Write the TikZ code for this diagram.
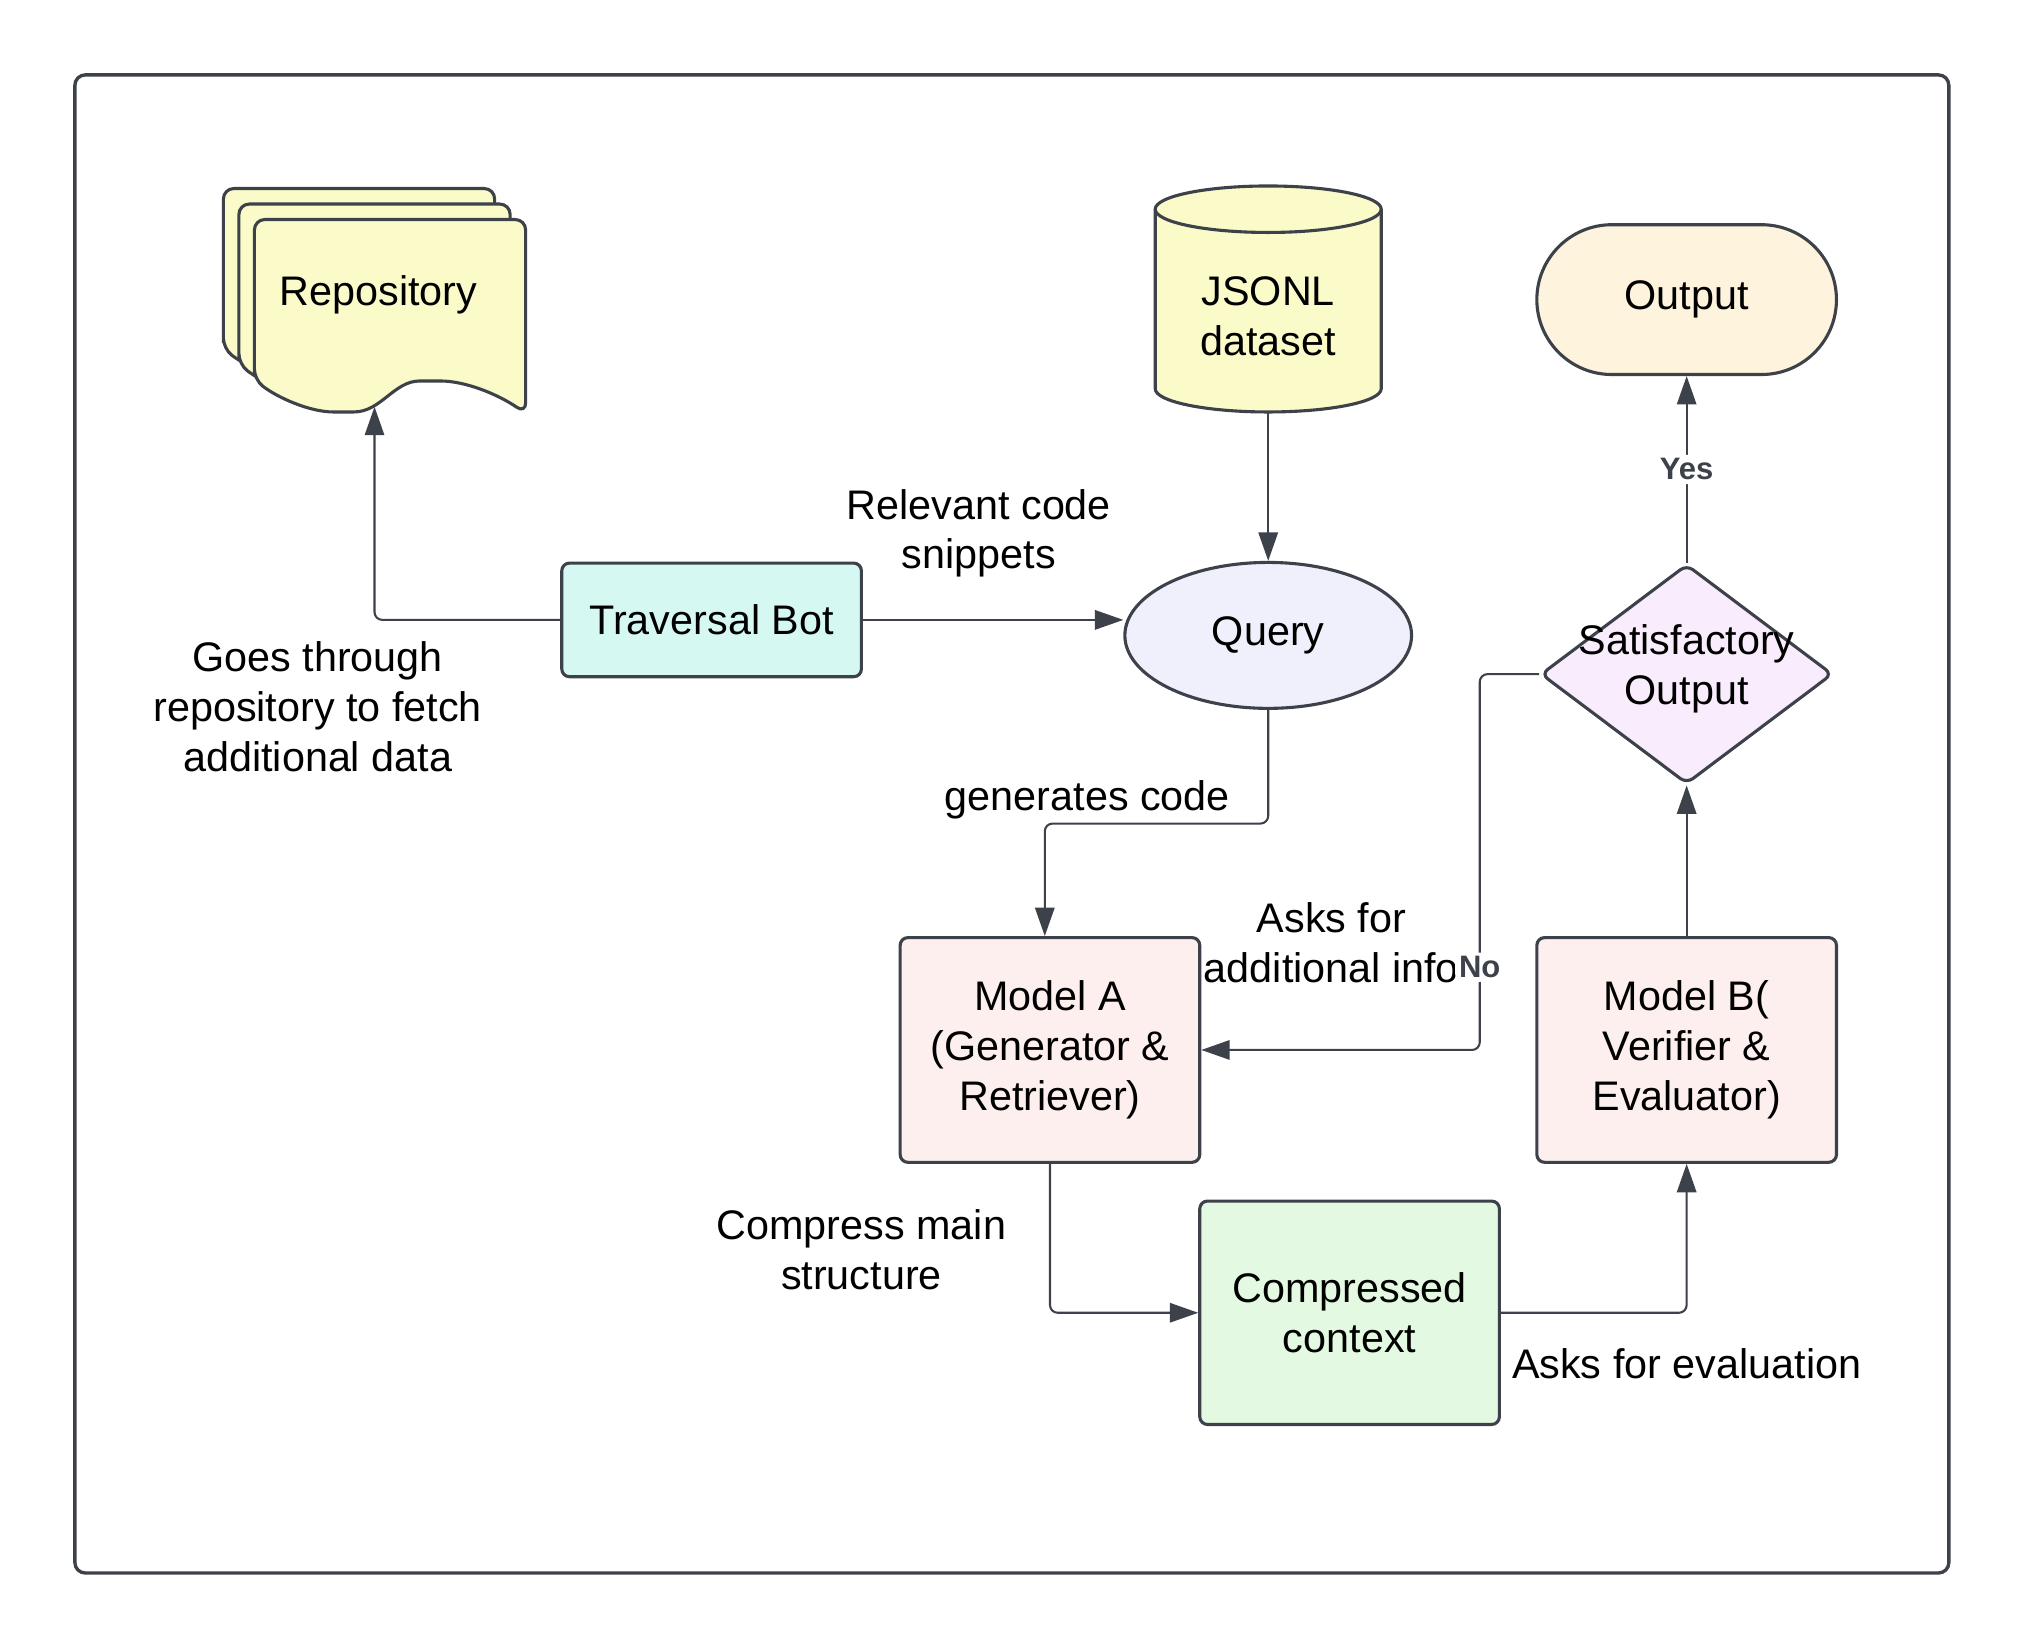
\documentclass[tikz,border=0pt]{standalone}
\usepackage{fontspec}
\setmainfont{Liberation Sans}
\usetikzlibrary{arrows.meta,shapes.geometric,shapes.misc}

\definecolor{edge}{RGB}{61,65,73}
\definecolor{docfill}{RGB}{250,251,200}
\definecolor{travfill}{RGB}{214,248,242}
\definecolor{queryfill}{RGB}{240,240,252}
\definecolor{outfill}{RGB}{254,243,220}
\definecolor{satfill}{RGB}{249,237,253}
\definecolor{modfill}{RGB}{253,239,238}
\definecolor{compfill}{RGB}{227,249,225}

\begin{document}
\begin{tikzpicture}[x=.5pt,y=-.5pt,
  every node/.style={font=\fontsize{16}{19.3}\selectfont,align=center,inner sep=0pt},
  shape line/.style={draw=edge,line width=1.2pt},
  box/.style={shape line,rounded corners=3pt,minimum width=116pt},
  page/.style={shape line,fill=docfill,rounded corners=4pt},
  rim/.style={x radius=43.75pt,y radius=9pt},
  conn/.style={draw=edge,line width=.8pt,rounded corners=3pt,-{Triangle[length=11pt,width=7.5pt]}},
  tag/.style={fill=white,text=edge,inner sep=1.5pt,font=\fontsize{12}{14}\selectfont\bfseries}]
\useasboundingbox (0,0) rectangle (1568,1277.6);
\draw[draw=edge,line width=1.3pt,rounded corners=4pt] (58,58) rectangle (1509,1218);

% stacked pages
\foreach \d in {24,12,0}
  \draw[page,shift={(-\d,-\d)}] (197,294) -- (197,170) -- (407,170) -- (407,320)
    .. controls (385,305) and (360,295) .. (333,295)
    .. controls (305,295) and (295,319) .. (266,319)
    .. controls (240,319) and (215,308) .. cycle;
\node (repo) at (293,228) {Repository};
\coordinate (repoBot) at (290,315);

% database
\draw[shape line,fill=docfill] (894.5,162) -- (894.5,301) arc[start angle=180,end angle=360,rim]
  -- (1069.5,162) arc[start angle=0,end angle=180,rim] -- cycle;
\draw[shape line] (894.5,162) arc[start angle=180,end angle=360,rim];
\node[minimum width=87.5pt,minimum height=87.5pt,outer sep=0pt,
  label={[yshift=-6.75pt]center:{JSONL\\dataset}}] (jsonl) at (982,231.5) {};

\node[box,fill=travfill,minimum height=44pt] (trav) at (551,480) {Traversal Bot};
\node[shape line,ellipse,fill=queryfill,minimum width=111pt,minimum height=56.5pt] (query) at (982,492) {Query};
\node[shape line,rounded rectangle,fill=outfill,minimum width=116pt,minimum height=58pt] (out) at (1306,232) {Output};
\node[shape line,diamond,fill=satfill,rounded corners=3pt,minimum width=113pt,minimum height=85pt,
  label={[yshift=2pt]center:{Satisfactory\\Output}}] (sat) at (1306,522) {};
\node[box,fill=modfill,minimum height=87pt] (modA) at (813,813) {Model A\\(Generator \&\\Retriever)};
\node[box,fill=modfill,minimum height=87pt] (modB) at (1306,813) {Model B(\\Verifier \&\\Evaluator)};
\node[box,fill=compfill,minimum height=86.5pt] (comp) at (1045,1016.5) {Compressed\\context};

% edge texts
\node (relTxt) at (758,413) {Relevant code\\snippets};
\node (goesTxt) at (246,547) {Goes through\\repository to fetch\\additional data};
\node (genTxt) at (842,619) {generates code};
\node (askTxt) at (1031,730) {Asks for\\additional info};
\node (cmpTxt) at (667,968) {Compress main\\structure};
\node (evalTxt) at (1306,1056) {Asks for evaluation};

\draw[conn] (trav.west) -| (repoBot);
\draw[conn] (trav.east) -- (trav.east -| query.west);
\draw[conn] (jsonl.south) -- (query.north);
\draw[conn] (query.south) -- ++(0,88) -| ([xshift=-2pt]modA.north);
\draw[conn] (modA.south) |- (comp.west);
\draw[conn] (comp.east) -| (modB.south);
\draw[conn] (modB.north) -- (sat.south);
\draw[conn] (sat.north) -- node[tag] (yes) {Yes} (out.south);
\draw[conn] (sat.west) -- ++(-46,0) |- node[tag,pos=.39] (no) {No} (modA.east);
\end{tikzpicture}
\end{document}
